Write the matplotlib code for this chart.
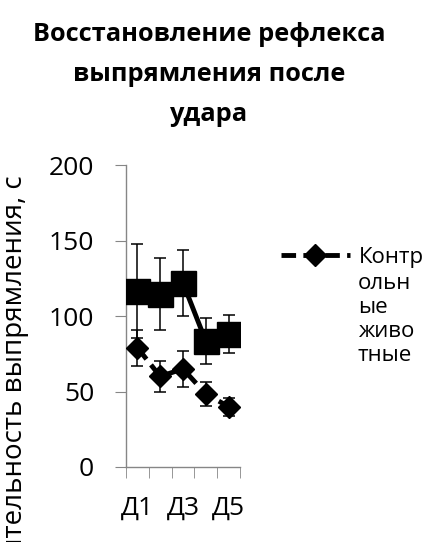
import matplotlib
matplotlib.use('Agg')
import matplotlib.pyplot as plt

plt.rcParams['font.family'] = ['Open Sans', 'DejaVu Sans']

days = ['Д1', 'Д2', 'Д3', 'Д4', 'Д5']
control = [79, 60, 65, 48.5, 40]
control_err = [12, 10, 12, 8, 6]
experiment = [116.5, 114.5, 122, 83.5, 88]
experiment_err = [31, 24, 22, 15.5, 12.5]

fig = plt.figure(figsize=(4.38, 5.42), dpi=100)
ax = fig.add_axes([0.2877, 0.1384, 0.260, 0.557])

x = list(range(len(days)))

ax.errorbar(x, experiment, yerr=experiment_err, fmt='none', ecolor='black',
            elinewidth=1.1, capsize=4.5, capthick=1.1, zorder=2)
ax.plot(x, experiment, color='black', lw=3.5, marker='s', markersize=18,
        zorder=3)

ax.errorbar(x, control, yerr=control_err, fmt='none', ecolor='black',
            elinewidth=1.1, capsize=4.5, capthick=1.1, zorder=2)
ax.plot(x, control, color='black', lw=3.5, ls=(0, (3, 1.5)), marker='D',
        markersize=11, label='Контр', zorder=3)

ax.set_xlim(-0.5, 4.5)
ax.set_ylim(0, 200)
ax.set_yticks([0, 50, 100, 150, 200])
ax.set_xticks([0, 2, 4])
ax.set_xticklabels([days[0], days[2], days[4]])
ax.set_xticks([-0.5, 0.5, 1.5, 2.5, 3.5, 4.5], minor=True)

for s in ['top', 'right']:
    ax.spines[s].set_visible(False)
for s in ['left', 'bottom']:
    ax.spines[s].set_color('#868686')
    ax.spines[s].set_linewidth(1)

ax.tick_params(axis='y', length=8, color='#868686', labelsize=19, pad=15)
ax.tick_params(axis='x', which='major', length=0, labelsize=19, pad=21)
ax.tick_params(axis='x', which='minor', length=8, color='#868686')

# legend: only the first line of the wrapped label sits next to the key
leg = ax.legend(loc='upper left', bbox_to_anchor=(1.36, 0.73), frameon=False,
                fontsize=16, handlelength=3.1, handletextpad=0.4,
                borderaxespad=0, borderpad=0)
fig.text(358 / 438, 1 - 273 / 542, 'ольн\nые\nживо\nтные', fontsize=16,
         ha='left', va='top', linespacing=1.19)

fig.text(209 / 438, 1 - 22 / 542,
         'Восстановление рефлекса\nвыпрямления после\nудара',
         ha='center', va='top', fontsize=18.3, fontweight='bold',
         linespacing=1.78)

fig.text(15 / 438, 1 - 175 / 542, 'Продолжительность выпрямления, с',
         rotation=90, rotation_mode='anchor', ha='right', va='center',
         fontsize=20)

fig.savefig('out.png', dpi=100)
